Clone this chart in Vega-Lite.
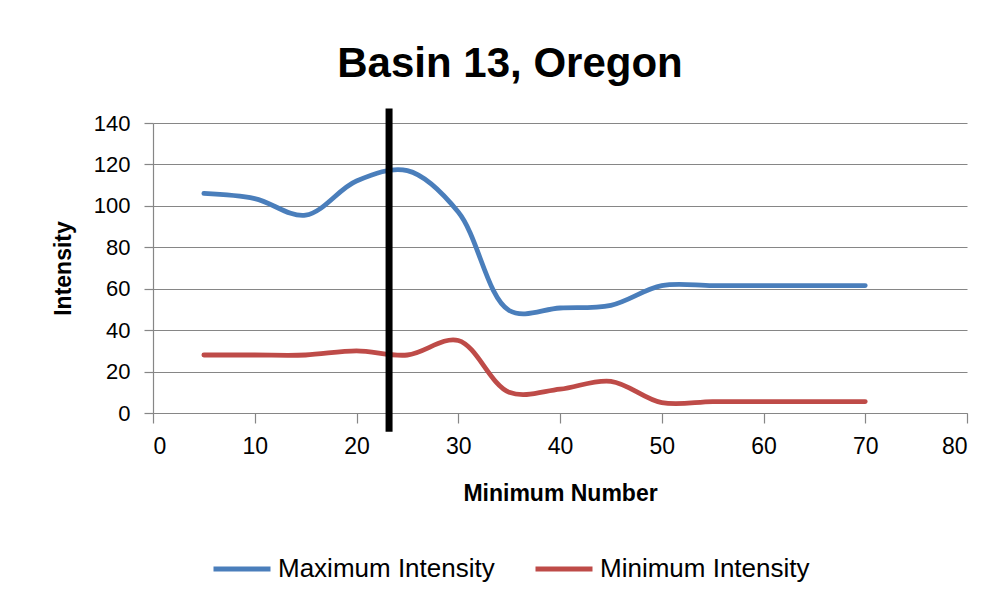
{
  "$schema": "https://vega.github.io/schema/vega-lite/v6.json",
  "autosize": {"type": "none"},
  "width": 814,
  "height": 290,
  "padding": {"left": 153, "top": 123, "right": 33, "bottom": 195},
  "background": "white",
  "title": {
    "text": "Basin 13, Oregon",
    "font": "Liberation Sans",
    "fontSize": 42,
    "fontWeight": "bold",
    "color": "#000000",
    "anchor": "middle",
    "frame": "group",
    "dx": -50,
    "dy": 45,
    "offset": 31,
    "baseline": "alphabetic"
  },
  "datasets": {
    "series": [
      {"number": 5, "intensity": 106, "series": "Maximum Intensity"},
      {"number": 10, "intensity": 103.5, "series": "Maximum Intensity"},
      {"number": 15, "intensity": 95.5, "series": "Maximum Intensity"},
      {"number": 20, "intensity": 112, "series": "Maximum Intensity"},
      {"number": 25, "intensity": 117, "series": "Maximum Intensity"},
      {"number": 30, "intensity": 97, "series": "Maximum Intensity"},
      {"number": 35, "intensity": 49.5, "series": "Maximum Intensity"},
      {"number": 40, "intensity": 50.7, "series": "Maximum Intensity"},
      {"number": 45, "intensity": 52, "series": "Maximum Intensity"},
      {"number": 50, "intensity": 61.5, "series": "Maximum Intensity"},
      {"number": 55, "intensity": 61.5, "series": "Maximum Intensity"},
      {"number": 60, "intensity": 61.5, "series": "Maximum Intensity"},
      {"number": 65, "intensity": 61.5, "series": "Maximum Intensity"},
      {"number": 70, "intensity": 61.5, "series": "Maximum Intensity"},
      {"number": 5, "intensity": 28, "series": "Minimum Intensity"},
      {"number": 10, "intensity": 28, "series": "Minimum Intensity"},
      {"number": 15, "intensity": 28, "series": "Minimum Intensity"},
      {"number": 20, "intensity": 30, "series": "Minimum Intensity"},
      {"number": 25, "intensity": 28, "series": "Minimum Intensity"},
      {"number": 30, "intensity": 35, "series": "Minimum Intensity"},
      {"number": 35, "intensity": 10, "series": "Minimum Intensity"},
      {"number": 40, "intensity": 11.5, "series": "Minimum Intensity"},
      {"number": 45, "intensity": 15.3, "series": "Minimum Intensity"},
      {"number": 50, "intensity": 5, "series": "Minimum Intensity"},
      {"number": 55, "intensity": 5.5, "series": "Minimum Intensity"},
      {"number": 60, "intensity": 5.5, "series": "Minimum Intensity"},
      {"number": 65, "intensity": 5.5, "series": "Minimum Intensity"},
      {"number": 70, "intensity": 5.5, "series": "Minimum Intensity"}
    ],
    "marker": [
      {"number": 23.2, "top": 147, "bottom": -9}
    ]
  },
  "layer": [
    {
      "data": {"name": "series"},
      "mark": {"type": "line", "interpolate": "catmull-rom", "strokeWidth": 4.8, "strokeCap": "round", "strokeJoin": "round"},
      "encoding": {
        "x": {
          "field": "number",
          "type": "quantitative",
          "scale": {"domain": [0, 80], "nice": false, "zero": false},
          "axis": {
            "values": [0, 10, 20, 30, 40, 50, 60, 70, 80],
            "grid": false,
            "tickSize": 10,
            "labelPadding": 12,
            "labelFontSize": 23,
            "title": "Minimum Number",
            "titlePadding": 24
          }
        },
        "y": {
          "field": "intensity",
          "type": "quantitative",
          "scale": {"domain": [0, 140], "nice": false},
          "axis": {
            "values": [0, 20, 40, 60, 80, 100, 120, 140],
            "grid": true,
            "tickSize": 9,
            "labelPadding": 14,
            "title": "Intensity",
            "titlePadding": 18
          }
        },
        "color": {
          "field": "series",
          "type": "nominal",
          "scale": {"domain": ["Maximum Intensity", "Minimum Intensity"], "range": ["#4A7EBB", "#BE4B48"]},
          "legend": {
            "title": null,
            "orient": "none",
            "direction": "horizontal",
            "legendX": 58,
            "legendY": 415,
            "symbolType": "stroke",
            "symbolSize": 3249,
            "symbolStrokeWidth": 5,
            "labelOffset": 5,
            "columnPadding": 30,
            "padding": 0,
            "labelLimit": 400,
            "labelFontSize": 26,
            "labelFont": "Liberation Sans",
            "labelColor": "#000000"
          }
        }
      }
    },
    {
      "data": {"name": "marker"},
      "mark": {"type": "rule", "color": "#000000", "strokeWidth": 7, "strokeCap": "butt", "clip": false},
      "encoding": {
        "x": {"field": "number", "type": "quantitative"},
        "y": {"field": "top", "type": "quantitative"},
        "y2": {"field": "bottom"}
      }
    }
  ],
  "config": {
    "font": "Liberation Sans",
    "view": {"stroke": null},
    "axis": {
      "domainColor": "#868686",
      "tickColor": "#868686",
      "gridColor": "#868686",
      "gridOpacity": 1,
      "domainWidth": 1.2,
      "tickWidth": 1.2,
      "gridWidth": 1.2,
      "labelFont": "Liberation Sans",
      "labelFontSize": 22,
      "labelColor": "#000000",
      "titleFont": "Liberation Sans",
      "titleFontSize": 23,
      "titleFontWeight": "bold",
      "titleColor": "#000000"
    }
  }
}
